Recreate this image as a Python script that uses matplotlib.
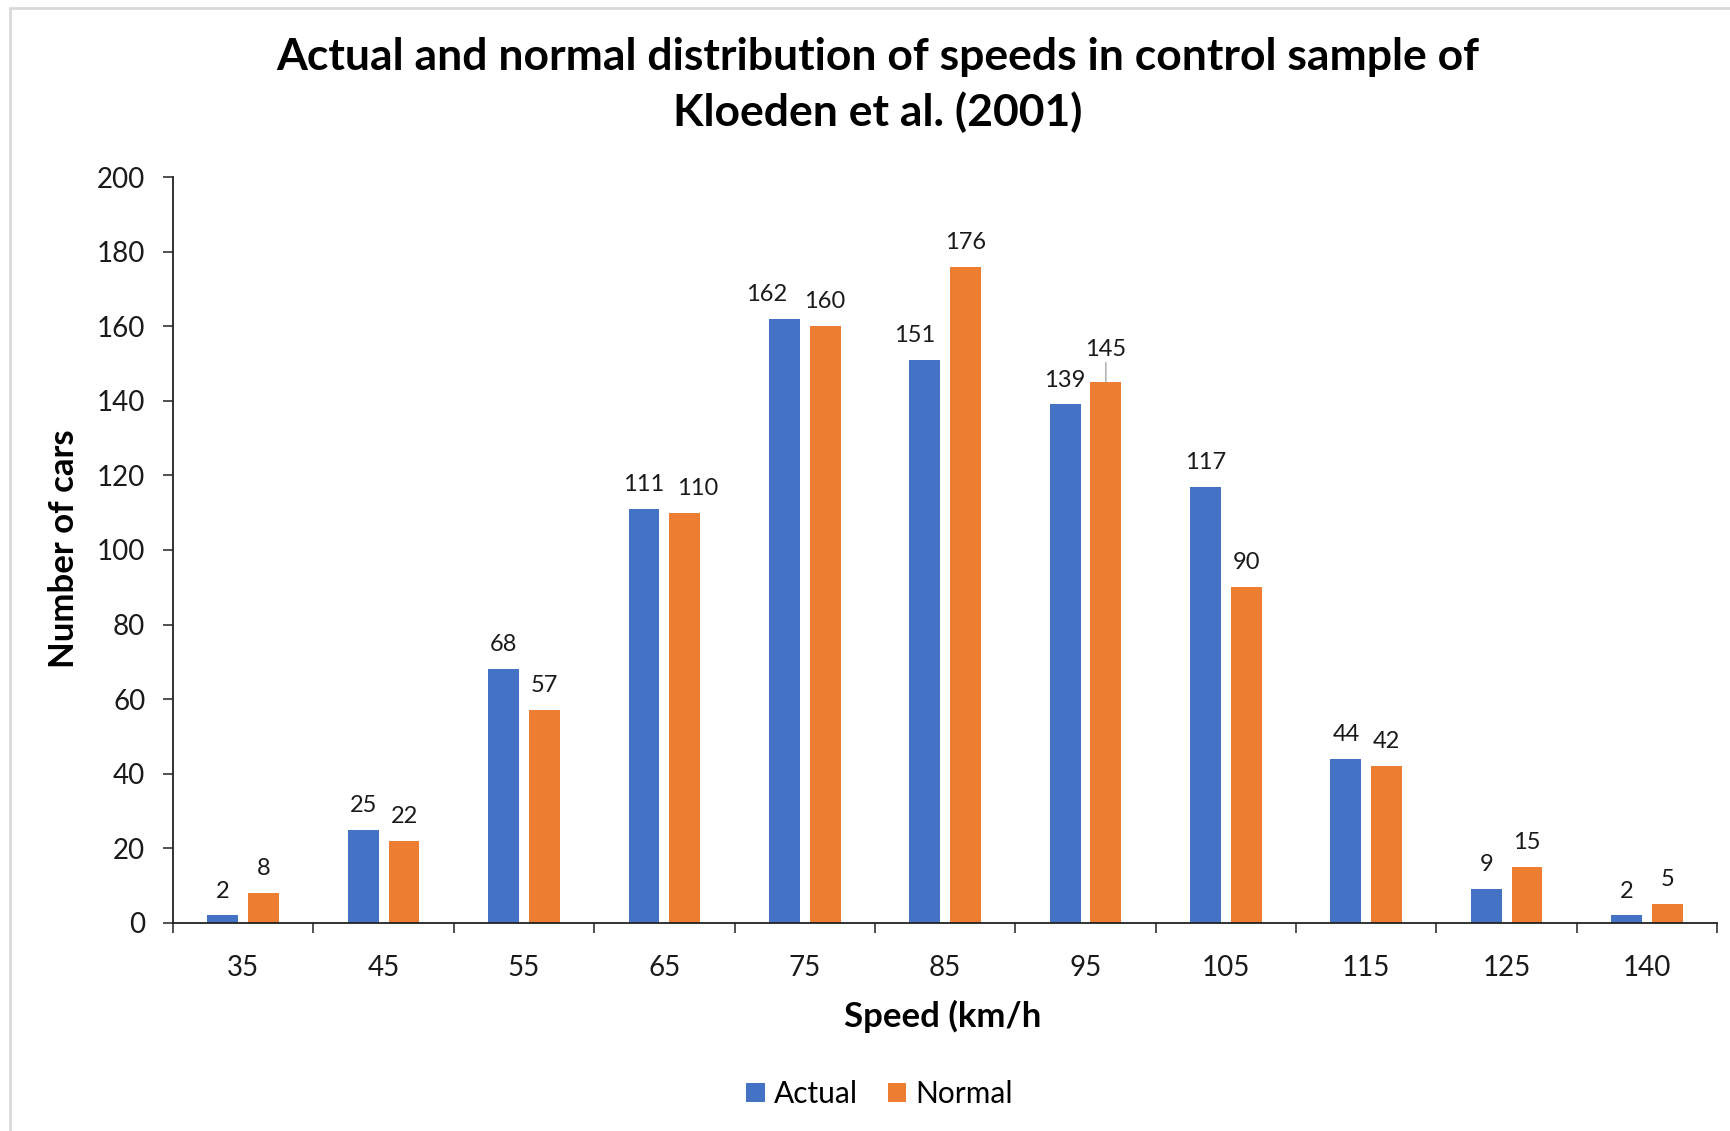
import numpy as np
import matplotlib.pyplot as plt
from matplotlib.patches import Rectangle

# speed classes and counts
speeds = ["35", "45", "55", "65", "75", "85", "95", "105", "115", "125", "140"]
actual = [2, 25, 68, 111, 162, 151, 139, 117, 44, 9, 2]
normal = [8, 22, 57, 110, 160, 176, 145, 90, 42, 15, 5]

blue = "#4472C4"
orange = "#ED7D31"

plt.rcParams['font.family'] = ['Lato', 'DejaVu Sans']

fig = plt.figure(figsize=(17.31, 11.31), dpi=100)
ax = fig.add_axes([0.100, 0.184, 0.892, 0.6595])

x = np.arange(len(speeds))
w = 0.22
off = 0.145
b1 = ax.bar(x - off, actual, w, color=blue, label="Actual")
b2 = ax.bar(x + off, normal, w, color=orange, label="Normal")

# data labels, a few nudged like in the original (points)
shift_a = {4: -13, 5: -7}
shift_n = {3: 9}
for i, v in enumerate(actual):
    ax.annotate(str(v), (x[i] - off, v), xytext=(shift_a.get(i, 0), 10),
                textcoords="offset points", ha="center", va="bottom",
                fontsize=17, color="#1a1a1a")
for i, v in enumerate(normal):
    if i == 6:
        # this one sits higher with a leader line
        ax.annotate(str(v), (x[i] + off, v), xytext=(0, 16),
                    textcoords="offset points", ha="center", va="bottom",
                    fontsize=17, color="#1a1a1a",
                    arrowprops=dict(arrowstyle="-", color="#a6a6a6", lw=1,
                                    shrinkA=0, shrinkB=0))
        continue
    ax.annotate(str(v), (x[i] + off, v), xytext=(shift_n.get(i, 0), 10),
                textcoords="offset points", ha="center", va="bottom",
                fontsize=17, color="#1a1a1a")

ax.set_xlim(-0.5, len(speeds) - 0.5)
ax.set_ylim(0, 200)
ax.set_yticks(np.arange(0, 201, 20))
ax.set_xticks(x)
ax.set_xticklabels(speeds)
ax.set_xticks(np.arange(-0.5, len(speeds)), minor=True)
ax.tick_params(axis="x", which="major", length=0, pad=23, labelsize=20, labelcolor="#1a1a1a")
ax.tick_params(axis="x", which="minor", length=7, width=1.2, color="#333333")
ax.tick_params(axis="y", length=7, width=1.2, pad=13, labelsize=20,
               labelcolor="#1a1a1a", color="#333333")

for s in ["top", "right"]:
    ax.spines[s].set_visible(False)
for s in ["left", "bottom"]:
    ax.spines[s].set_linewidth(1.3)
    ax.spines[s].set_color("#222222")

fig.text(0.507, 0.925, "Actual and normal distribution of speeds in control sample of\nKloeden et al. (2001)",
         ha="center", va="center", fontsize=32, fontweight="bold", linespacing=1.42)
fig.text(0.5445, 1 - 1016 / 1131, "Speed (km/h", ha="center", va="center",
         fontsize=25, fontweight="bold")
fig.text(64 / 1731, 1 - 549 / 1131, "Number of cars", ha="center", va="center",
         rotation=90, fontsize=25, fontweight="bold")

fig.legend(handles=[b1, b2], loc="center", bbox_to_anchor=(0.508, 1 - 1094 / 1131),
           ncol=2, frameon=False, fontsize=21.5, handlelength=0.62, handleheight=0.62,
           handletextpad=0.3, columnspacing=1.0)

# light frame of the chart area
fig.patches.append(Rectangle((10 / 1731, -0.1), 1.2, 0.1 + 1 - 8 / 1131,
                             transform=fig.transFigure, fill=False,
                             edgecolor="#d9d9d9", lw=2))

fig.savefig("out.png", dpi=100)
